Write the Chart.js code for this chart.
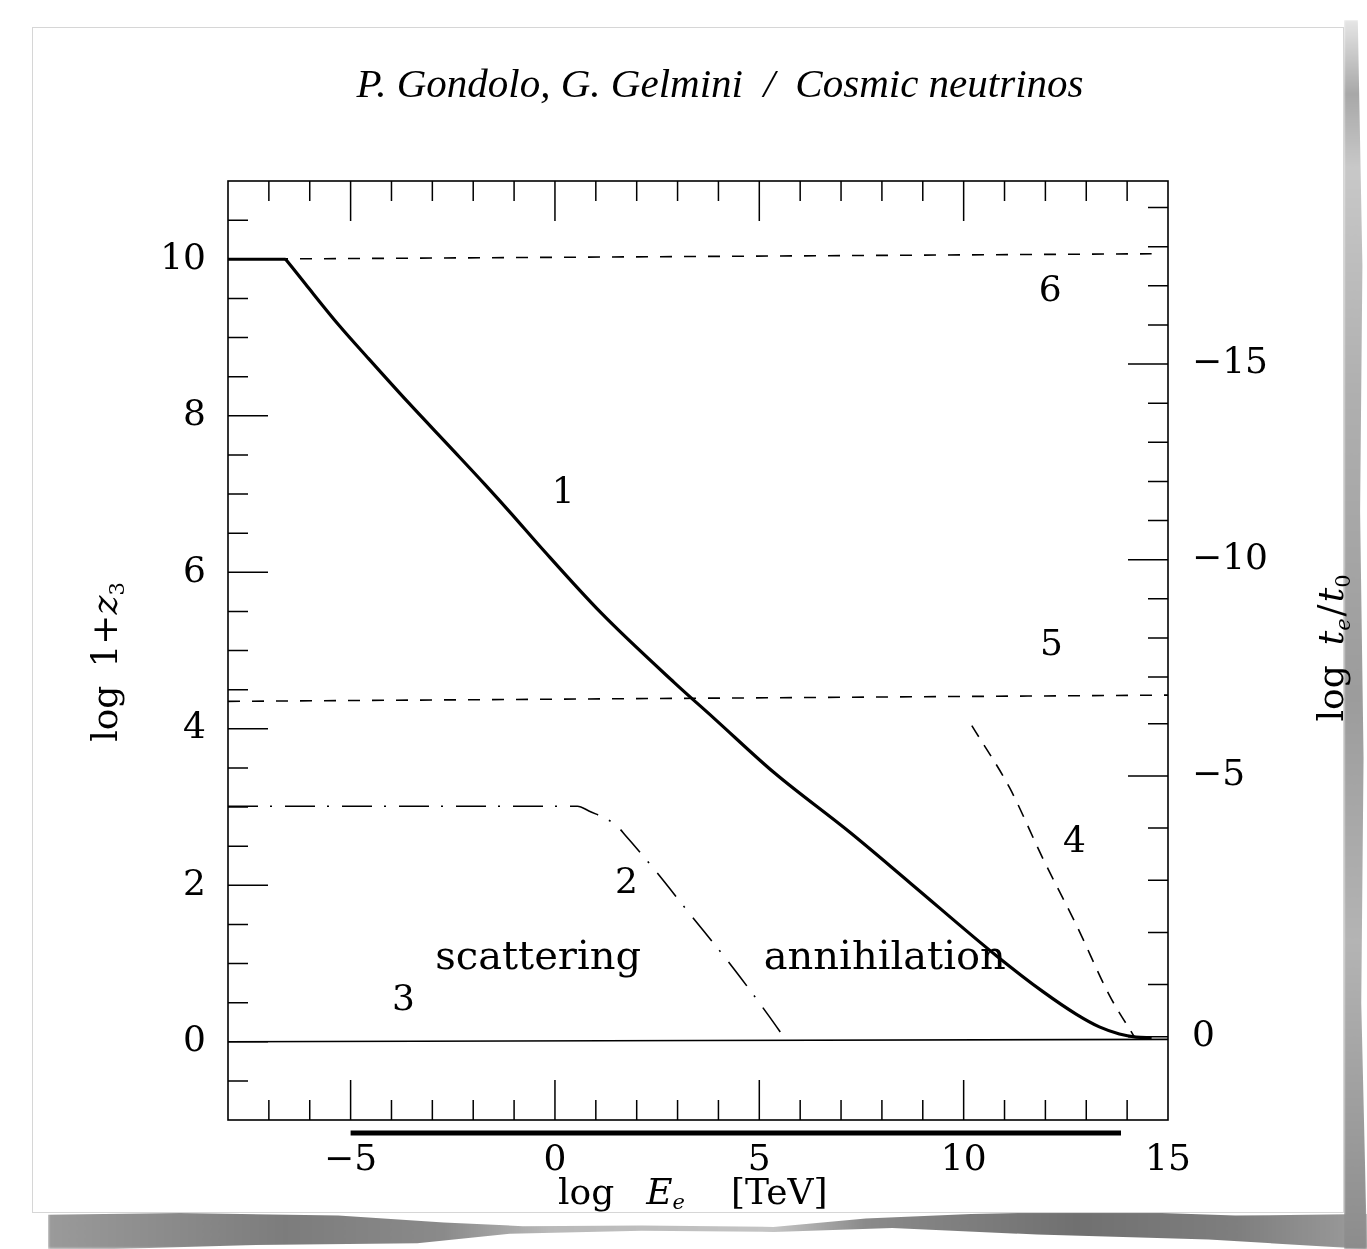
<!DOCTYPE html>
<html>
<head>
<meta charset="utf-8">
<script src="https://cdn.jsdelivr.net/npm/chart.js@4.4.1/dist/chart.umd.min.js"></script>
<style>
  html, body { margin: 0; padding: 0; background: #fff; }
  #page { position: relative; width: 1367px; height: 1249px; overflow: hidden; background: #fff; }
  /* torn sheet shadow, bottom and right */
  #shadowB {
    position: absolute; left: 48px; top: 1211px; width: 1319px; height: 38px;
    background: linear-gradient(90deg, #9a9a9a 0%, #7c7c7c 18%, #8a8a8a 30%, #b9b9b9 38%, #c4c4c4 55%, #8a8a8a 62%, #707070 78%, #7e7e7e 90%, #9c9c9c 100%);
    clip-path: polygon(0 10%, 10% 5%, 22% 12%, 30% 30%, 36% 40%, 45% 38%, 55% 42%, 62% 20%, 70% 8%, 80% 0, 90% 12%, 100% 8%, 100% 100%, 88% 75%, 75% 62%, 64% 45%, 55% 55%, 45% 52%, 35% 60%, 28% 85%, 15% 90%, 5% 100%, 0 100%);
    filter: blur(1.5px);
  }
  #shadowR {
    position: absolute; left: 1344px; top: 20px; width: 23px; height: 1229px;
    background: linear-gradient(180deg, #e6e6e6 0%, #a8a8a8 6%, #c8c8c8 12%, #b0b0b0 30%, #9c9c9c 55%, #b4b4b4 75%, #8c8c8c 100%);
    clip-path: polygon(20% 0, 60% 0, 80% 20%, 70% 40%, 85% 60%, 75% 80%, 100% 100%, 0 100%, 0 0);
    filter: blur(1px);
  }
  #paper {
    position: absolute; left: 32px; top: 27px; width: 1310px; height: 1184px;
    background: #fff; border: 1px solid #d6d6d6;
  }
  #chart { position: absolute; left: 0; top: 0; }
</style>
</head>
<body>
<div id="page">
  <div id="shadowB"></div>
  <div id="shadowR"></div>
  <div id="paper"></div>
  <canvas id="chart" width="1367" height="1212"></canvas>
</div>
<script>
// ===============================
// axes
// ===============================
const xRange = [-8, 15];          // log E [TeV]
const zRange = [-1, 11];          // log 1+z
const xTickLabels = [-5, 0, 5, 10, 15];
const zTickLabels = [0, 2, 4, 6, 8, 10];
const tTickLabels = [-15, -10, -5, 0];   // log t_e/t_0 (right side)

// log t -> log(1+z): matter era slope 2/3, radiation era slope 1/2
const tEquality = -6.58;
function tToZ(t) {
  return t >= tEquality ? 0.064 - t / 1.5 : 1.16 - t / 2;
}

// ===============================
// curves
// ===============================
// 1: thick solid (flat start, then the falling part)
const c1FlatE = [-8, -6.59];
const c1FlatZ = [10, 10];
const c1E = [-6.59, -6.10, -5.29, -4.56, -3.59, -2.53, -1.71, -1.07, -0.33, 1.13, 2.92, 3.90, 5.36, 7.23, 8.69, 10.80, 11.94, 12.76, 13.32, 13.81, 14.22, 14.6];
const c1Z = [10, 9.68, 9.16, 8.73, 8.17, 7.58, 7.12, 6.75, 6.31, 5.48, 4.59, 4.13, 3.44, 2.67, 2.03, 1.10, 0.64, 0.35, 0.19, 0.10, 0.06, 0.05];
// 2: dash-dot
const c2E = [-8, 0.55, 0.83, 1.49, 1.72, 2.42, 3.26, 4.38, 5.22, 5.64];
const c2Z = [3.01, 3.01, 2.95, 2.77, 2.64, 2.21, 1.66, 0.93, 0.34, 0.03];
// 3: thin solid
const c3E = [-8, 15];
const c3Z = [0, 0.03];
// 4: dashed
const c4E = [10.2, 11.13, 11.94, 12.76, 13.57, 14.18];
const c4Z = [4.04, 3.24, 2.34, 1.49, 0.59, 0.06];
// 5, 6: dashed horizontals
const c5E = [-8, 15];
const c5Z = [4.35, 4.43];
const c6E = [-8, 14.6];
const c6Z = [10.0, 10.07];

// thick bar under the energy axis
const barE = [-5, 13.85];

// curve labels
const noteText = ['1', '2', '3', '4', '5', '6', 'scattering', 'annihilation'];
const noteE = [0.2, 1.75, -3.71, 12.71, 12.15, 12.12, -0.41, 8.07];
const noteZ = [7.0, 2.02, 0.53, 2.55, 5.06, 9.58, 1.06, 1.06];

// ===============================
// helpers
// ===============================
const SERIF = '"DejaVu Serif", serif';
const pts = (xs, ys) => xs.map((v, i) => ({ x: v, y: ys[i] }));
const minus = v => (v < 0 ? '\u2212' + Math.abs(v) : String(v));

function line(xs, ys, width, dash) {
  return {
    data: pts(xs, ys),
    showLine: true,
    borderColor: '#000',
    borderWidth: width,
    borderDash: dash || [],
    borderJoinStyle: 'round',
    pointRadius: 0,
    cubicInterpolationMode: 'monotone',
    fill: false
  };
}

// draw a row of text pieces with different fonts, centred or from a start x
function drawRuns(ctx, runs, x0, y0, align) {
  let w = 0;
  runs.forEach(r => { ctx.font = r.font; w += (r.gap || 0) + ctx.measureText(r.text).width; });
  let x = align === 'center' ? x0 - w / 2 : x0;
  runs.forEach(r => {
    x += r.gap || 0;
    ctx.font = r.font;
    ctx.fillText(r.text, x, y0 + (r.dy || 0));
    x += ctx.measureText(r.text).width;
  });
}

// ===============================
// frame, inward ticks, texts
// ===============================
const framePlugin = {
  id: 'frame',
  afterDatasetsDraw(chart) {
    const { ctx, chartArea: a, scales: { x, y, y2 } } = chart;
    ctx.save();
    ctx.strokeStyle = '#000';
    ctx.lineWidth = 1.6;
    ctx.strokeRect(a.left, a.top, a.right - a.left, a.bottom - a.top);

    ctx.lineWidth = 1.5;
    ctx.beginPath();
    // energy ticks, top and bottom
    for (let v = -7; v <= 14; v++) {
      const len = v % 5 === 0 ? 40 : 20;
      const px = x.getPixelForValue(v);
      ctx.moveTo(px, a.bottom); ctx.lineTo(px, a.bottom - len);
      ctx.moveTo(px, a.top); ctx.lineTo(px, a.top + len);
    }
    // log 1+z ticks, left
    for (let v = -0.5; v <= 10.5; v += 0.5) {
      const len = v % 2 === 0 ? 40 : 20;
      const py = y.getPixelForValue(v);
      ctx.moveTo(a.left, py); ctx.lineTo(a.left + len, py);
    }
    // log t ticks, right
    for (let t = -19; t <= 0; t++) {
      const len = t % 5 === 0 ? 40 : 20;
      const py = y2.getPixelForValue(tToZ(t));
      ctx.moveTo(a.right, py); ctx.lineTo(a.right - len, py);
    }
    ctx.stroke();

    // bar under the axis
    ctx.lineWidth = 5;
    ctx.beginPath();
    ctx.moveTo(x.getPixelForValue(barE[0]), a.bottom + 13);
    ctx.lineTo(x.getPixelForValue(barE[1]), a.bottom + 13);
    ctx.stroke();

    // curve labels
    ctx.fillStyle = '#000';
    ctx.textAlign = 'center';
    ctx.textBaseline = 'middle';
    noteText.forEach((s, i) => {
      ctx.font = (s.length > 1 ? '40px ' : '36px ') + SERIF;
      ctx.fillText(s, x.getPixelForValue(noteE[i]), y.getPixelForValue(noteZ[i]));
    });

    ctx.textAlign = 'left';
    ctx.textBaseline = 'alphabetic';
    const reg = '36px ' + SERIF;
    const ita = 'italic 36px ' + SERIF;
    const sub = '21px ' + SERIF;
    const subI = 'italic 21px ' + SERIF;

    // running head
    ctx.font = 'italic 41px "Liberation Serif", serif';
    ctx.textAlign = 'center';
    ctx.fillText('P. Gondolo, G. Gelmini  /  Cosmic neutrinos', 720, 97);
    ctx.textAlign = 'left';

    // bottom title
    drawRuns(ctx, [
      { text: 'log', font: reg },
      { text: 'E', font: ita, gap: 32 },
      { text: 'e', font: subI, dy: 5 },
      { text: '[TeV]', font: reg, gap: 46 }
    ], 558, 1204, 'left');

    // left title
    ctx.save();
    ctx.translate(117, 662);
    ctx.rotate(-Math.PI / 2);
    drawRuns(ctx, [
      { text: 'log', font: reg },
      { text: '1+', font: reg, gap: 18 },
      { text: 'z', font: ita },
      { text: '3', font: sub, dy: 7 }
    ], 0, 0, 'center');
    ctx.restore();

    // right title
    ctx.save();
    ctx.translate(1343, 648);
    ctx.rotate(-Math.PI / 2);
    drawRuns(ctx, [
      { text: 'log', font: reg },
      { text: 't', font: ita, gap: 20 },
      { text: 'e', font: subI, dy: 7 },
      { text: '/', font: reg, gap: 2 },
      { text: 't', font: ita, gap: 2 },
      { text: '0', font: sub, dy: 7 }
    ], 0, 0, 'center');
    ctx.restore();

    ctx.restore();
  }
};

// ===============================
// chart
// ===============================
const tickFont = { family: '"DejaVu Serif", serif', size: 36 };

new Chart(document.getElementById('chart'), {
  type: 'scatter',
  data: {
    datasets: [
      line(c3E, c3Z, 1.6),
      line(c5E, c5Z, 1.6, [12, 12]),
      line(c6E, c6Z, 1.6, [12, 12]),
      line(c2E, c2Z, 1.6, [30, 12, 2, 13]),
      line(c4E, c4Z, 1.6, [13, 10]),
      line(c1FlatE, c1FlatZ, 3.2),
      line(c1E, c1Z, 3.2)
    ]
  },
  options: {
    responsive: false,
    animation: false,
    events: [],
    layout: { padding: { top: 181, left: 0, right: 0, bottom: 0 } },
    plugins: { legend: { display: false }, tooltip: { enabled: false } },
    scales: {
      x: {
        type: 'linear', position: 'bottom', min: xRange[0], max: xRange[1],
        grid: { display: false, drawTicks: false }, border: { display: false },
        ticks: { font: tickFont, color: '#000', padding: 19, maxRotation: 0, autoSkip: false, callback: v => minus(v) },
        afterBuildTicks: s => { s.ticks = xTickLabels.map(v => ({ value: v })); },
        afterFit: s => { s.height = 92; }
      },
      y: {
        type: 'linear', position: 'left', min: zRange[0], max: zRange[1],
        grid: { display: false, drawTicks: false }, border: { display: false },
        ticks: { font: tickFont, color: '#000', padding: 22, autoSkip: false, callback: v => minus(v) },
        afterBuildTicks: s => { s.ticks = zTickLabels.map(v => ({ value: v })); },
        afterFit: s => { s.width = 228; }
      },
      y2: {
        type: 'linear', position: 'right', min: zRange[0], max: zRange[1],
        grid: { display: false, drawTicks: false }, border: { display: false },
        ticks: { font: tickFont, color: '#000', padding: 24, autoSkip: false, callback: (v, i) => minus(tTickLabels[i]) },
        afterBuildTicks: s => { s.ticks = tTickLabels.map(t => ({ value: tToZ(t) })); },
        afterFit: s => { s.width = 199; }
      }
    }
  },
  plugins: [framePlugin]
});
</script>
</body>
</html>
